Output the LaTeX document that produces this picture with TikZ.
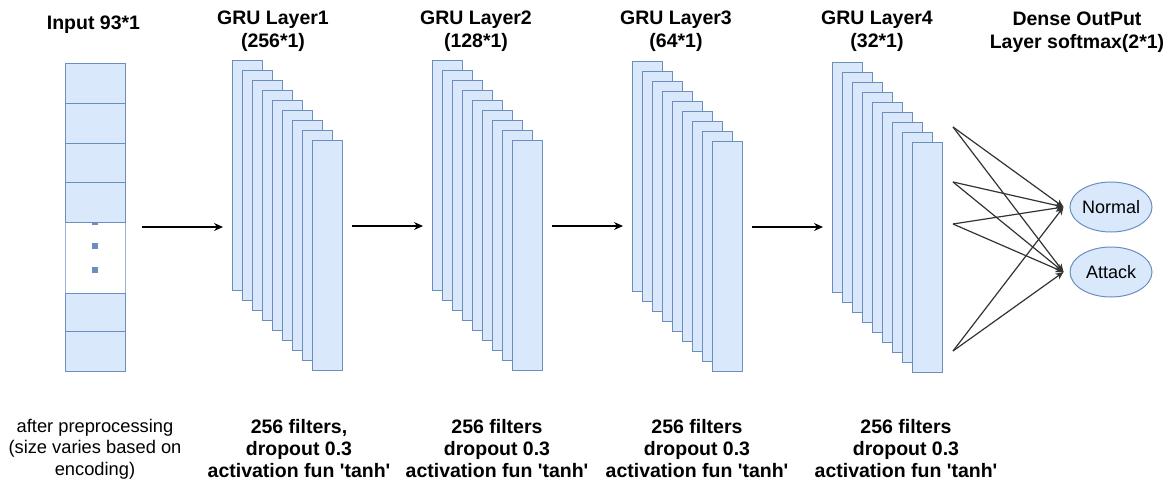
\documentclass[tikz,border=0pt]{standalone}
\usepackage{fontspec}
\setmainfont{Liberation Sans}
\usetikzlibrary{arrows.meta,shapes.geometric}
\definecolor{fillb}{HTML}{DAE8FC}
\definecolor{strokeb}{HTML}{6C8EBF}
\definecolor{strokel}{HTML}{9AB3DA}
\definecolor{linec}{HTML}{333333}
\begin{document}
\begin{tikzpicture}[x=1pt,y=-1pt,
  fmap/.style={draw=strokeb, fill=fillb, line width=1pt, minimum width=30pt, minimum height=230pt, inner sep=0pt, anchor=north west},
  cellbox/.style={draw=strokeb, fill=fillb, line width=1pt, minimum width=60pt, inner sep=0pt, anchor=north west},
  dotbox/.style={fill=strokeb, minimum size=6pt, inner sep=0pt},
  head/.style={font=\bfseries\fontsize{19.5}{22.5}\selectfont, align=center, anchor=base, inner sep=0pt},
  note/.style={font=\bfseries\fontsize{19.5}{22}\selectfont, align=center, anchor=base, inner sep=0pt},
  plainnote/.style={font=\fontsize{18.3}{21.5}\selectfont, align=center, anchor=base, inner sep=0pt},
  arr/.style={draw=black, line width=1.2pt, -{Stealth[length=9pt,width=8pt,inset=3pt]}},
  fan/.style={draw=linec, line width=1.2pt, -{Stealth[length=8pt,width=7pt,inset=2.5pt]}},
  outnode/.style={ellipse, draw=strokeb, fill=fillb, line width=1pt, minimum width=82pt, minimum height=50pt, inner sep=0pt, font=\fontsize{18}{21}\selectfont}
]
\useasboundingbox (0,0) rectangle (1173,493);

% input column
\node[cellbox, minimum height=71pt, draw=strokel, fill=white] (in5) at (65,222) {};
\node[dotbox] (d1) at (95,222) {};
\node[dotbox] (d2) at (95,246) {};
\node[dotbox] (d3) at (95,270) {};
\node[cellbox, minimum height=40pt] (in1) at (65,63) {};
\node[cellbox, minimum height=40pt] (in2) at (65,103) {};
\node[cellbox, minimum height=39pt] (in3) at (65,143) {};
\node[cellbox, minimum height=40pt] (in4) at (65,182) {};
\node[cellbox, minimum height=38pt] (in6) at (65,293) {};
\node[cellbox, minimum height=40pt] (in7) at (65,331) {};

% GRU layers
\foreach \L/\x/\y in {1/232/60, 2/432/60, 3/632/61, 4/832/62} {
  \foreach \i in {0,...,8} {
    \node[fmap] (g\L-\i) at (\x+10*\i, \y+10*\i) {};
  }
}

% arrows between stages
\coordinate (a1s) at (142,227); \coordinate (a1e) at (223,227);
\coordinate (a2s) at (352,226); \coordinate (a2e) at (423,226);
\coordinate (a3s) at (552,226); \coordinate (a3e) at (623,226);
\coordinate (a4s) at (752,227); \coordinate (a4e) at (823,227);
\draw[arr] (a1s) -- (a1e);
\draw[arr] (a2s) -- (a2e);
\draw[arr] (a3s) -- (a3e);
\draw[arr] (a4s) -- (a4e);

% outputs
\node[outnode] (normal) at (1111,207) {Normal};
\node[outnode] (attack) at (1111,272) {Attack};
\coordinate (f1) at (953,127);
\coordinate (f2) at (953,182);
\coordinate (f3) at (953,224);
\coordinate (f4) at (953,351);
\foreach \f in {f1,f2,f3,f4} {
  \draw[fan] (\f) -- ([xshift=-6pt]normal.west);
  \draw[fan] (\f) -- ([xshift=-6pt]attack.west);
}

% titles (anchor = baseline of last line)
\node[head] (tin) at (93.5,29) {Input 93*1};
\node[head] (t1) at (273,47) {GRU Layer1\\(256*1)};
\node[head] (t2) at (476,47) {GRU Layer2\\(128*1)};
\node[head] (t3) at (676,47) {GRU Layer3\\(64*1)};
\node[head] (t4) at (877,47) {GRU Layer4\\(32*1)};
\node[head] (tout) at (1077,48) {Dense OutPut\\Layer softmax(2*1)};

% notes (anchor = baseline of last line)
\node[plainnote] (nin) at (95,475) {after preprocessing\\(size varies based on\\encoding)};
\node[note] (n1) at (299,477) {256 filters,\\dropout 0.3\\activation fun \textquotesingle tanh\textquotesingle};
\node[note] (n2) at (497,477) {256 filters\\dropout 0.3\\activation fun \textquotesingle tanh\textquotesingle};
\node[note] (n3) at (697,477) {256 filters\\dropout 0.3\\activation fun \textquotesingle tanh\textquotesingle};
\node[note] (n4) at (906,477) {256 filters\\dropout 0.3\\activation fun \textquotesingle tanh\textquotesingle};
\end{tikzpicture}
\end{document}
